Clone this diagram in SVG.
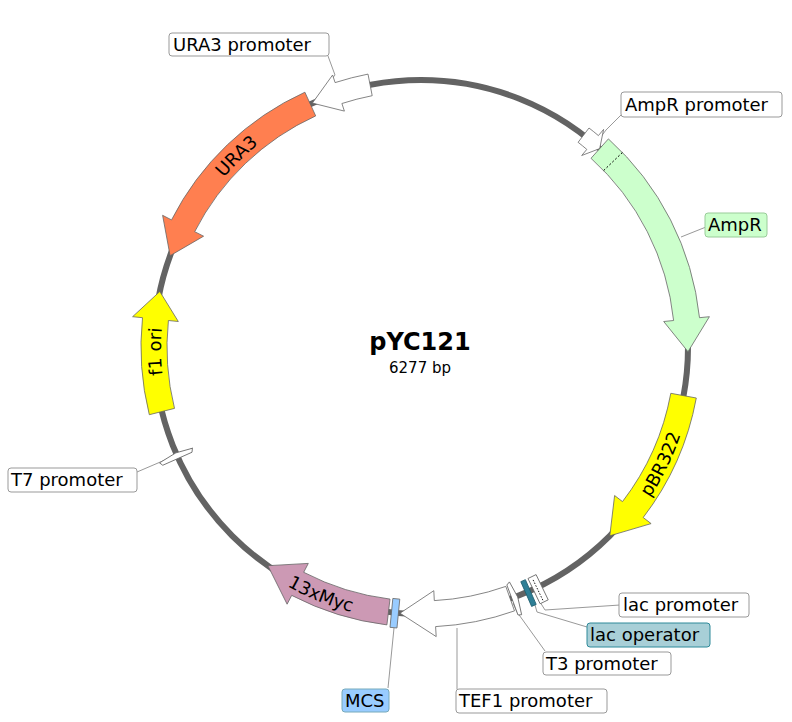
<svg xmlns="http://www.w3.org/2000/svg" width="792" height="722" viewBox="0 0 792 722">
<style>
text{font-family:"DejaVu Sans","Verdana",sans-serif;fill:#000}
.lbl{font-size:18px}
.box{fill:#fff;stroke:#999;stroke-width:1}
.lead{fill:none;stroke:#999;stroke-width:1}
.feat{stroke:#666;stroke-width:0.8}
.prom{fill:#fff;stroke:#666;stroke-width:0.8}
</style>
<rect width="792" height="722" fill="#fff"/>
<g id="backbone"><circle cx="421" cy="347" r="267" fill="none" stroke="#636363" stroke-width="6"/></g>
<g id="connectors">
<polyline class="lead" points="328,56 335,75 314,101"/>
<polyline class="lead" points="622,114 606,130 600,138"/>
<polyline class="lead" points="706,227 681,237"/>
<polyline class="lead" points="137,472 193,448"/>
<polyline class="lead" points="620,605 545,610 540,602"/>
<polyline class="lead" points="587,627 537,612 535,605"/>
<polyline class="lead" points="545,651 517,612 513,603"/>
<polyline class="lead" points="457,689 457,628"/>
<polyline class="lead" points="388,688 394,628"/>
</g>
<g id="ura3promoter"><path class="prom" d="M368,74.1 A278,278 0 0 0 335.1,82.6 L332.6,75 L312.4,103.1 L344.4,111.1 L341.9,103.5 A256,256 0 0 1 372.2,95.7 Z"/>
<rect class="box" x="169" y="33" width="160" height="23" rx="3"/><text class="lbl" x="173" y="51">URA3 promoter</text></g>
<g id="ura3"><path class="feat" fill="#ff7f50" d="M304.9,92.2 A280,280 0 0 0 171.5,219.9 L162.6,215.3 L170.1,255.7 L203.6,236.2 L194.7,231.7 A254,254 0 0 1 315.7,115.9 Z"/>
<path id="pU" d="M179.9,249.6 A260,260 0 0 1 332.1,102.7" fill="none"/>
<text class="lbl"><textPath href="#pU" startOffset="50%" text-anchor="middle">URA3</textPath></text></g>
<g id="ampRpromoter"><path class="prom" d="M589,128 A276,276 0 0 1 598.4,135.6 L603.6,129.4 L599.7,148.6 L581.7,155.5 L586.8,149.4 A258,258 0 0 0 578.1,142.3 Z"/>
<rect class="box" x="621" y="92" width="161" height="25" rx="3"/><text class="lbl" x="625" y="111">AmpR promoter</text></g>
<g id="ampR"><path class="feat" fill="#ccffcc" d="M608.4,138.9 A280,280 0 0 1 699.5,317.7 L709.4,316.7 L688,351.7 L663.7,321.5 L673.6,320.5 A254,254 0 0 0 591,158.3 Z"/>
<line x1="622.4" y1="152.5" x2="603.7" y2="170.5" stroke="#000" stroke-width="1" stroke-dasharray="2,2"/>
<rect x="705" y="213" width="62" height="24" rx="3" fill="#ccffcc" stroke="#9c9"/><text class="lbl" x="708" y="231">AmpR</text></g>
<g id="pBR322"><path class="feat" fill="#ffff00" d="M696.3,398 A280,280 0 0 1 643.2,517.5 L651.1,523.6 L609.8,535.8 L614.6,495.5 L622.5,501.6 A254,254 0 0 0 670.8,393.3 Z"/>
<path id="pP" d="M621.4,533.9 A274,274 0 0 0 691.6,389.9" fill="none"/>
<text class="lbl"><textPath href="#pP" startOffset="50%" text-anchor="middle">pBR322</textPath></text></g>
<g id="lacpromoter"><g transform="rotate(154.3 421 347)"><rect class="prom" x="416" y="64" width="9" height="28"/><line x1="421" y1="66" x2="421" y2="90" stroke="#000" stroke-width="0.8" stroke-dasharray="1.5,1.5"/></g>
<rect class="box" x="619" y="593" width="130" height="24" rx="3"/><text class="lbl" x="623" y="611">lac promoter</text></g>
<g id="lacoperator"><rect transform="rotate(156.4 421 347)" x="418.5" y="65" width="5" height="27" fill="#2e7f96" stroke="#1f5f70" stroke-width="0.8"/>
<rect x="587" y="623" width="123" height="24" rx="3" fill="#a8cfd7" stroke="#2e8a9a"/><text class="lbl" x="590" y="641">lac operator</text></g>
<g id="t3promoter"><polygon class="prom" transform="rotate(159.6 421 347)" points="423.5,62 423.5,94 420,96 417.5,79 420,61"/>
<rect class="box" x="543" y="652" width="128" height="23" rx="3"/><text class="lbl" x="546" y="670">T3 promoter</text></g>
<g id="tef1promoter"><path class="prom" d="M514.5,610.9 A280,280 0 0 1 435.6,626.6 L436.2,636.6 L400,613.2 L433.8,590.7 L434.3,600.6 A254,254 0 0 0 505.8,586.4 Z"/>
<rect class="box" x="456" y="689" width="151" height="24" rx="3"/><text class="lbl" x="459" y="707">TEF1 promoter</text></g>
<g id="mcs"><rect transform="rotate(185.6 421 347)" x="417.5" y="65" width="7" height="29" fill="#99ccff" stroke="#666" stroke-width="0.8"/>
<rect x="342" y="689" width="47" height="23" rx="3" fill="#99ccff" stroke="#7ab"/><text class="lbl" x="345" y="707">MCS</text></g>
<g id="myc"><path class="feat" fill="#cc99b4" d="M386.9,624.9 A280,280 0 0 1 291.7,595.4 L287.1,604.2 L267.9,565.7 L308.3,563.4 L303.7,572.3 A254,254 0 0 0 390,599.1 Z"/>
<path id="pM" d="M252.3,562.9 A274,274 0 0 0 392.4,619.5" fill="none"/>
<text class="lbl"><textPath href="#pM" startOffset="50%" text-anchor="middle">13xMyc</textPath></text></g>
<g id="t7promoter"><polygon class="prom" transform="rotate(-114 421 347)" points="418,63 418,95 421.5,97 424,80 421.5,61"/>
<rect class="box" x="8" y="468" width="129" height="24" rx="3"/><text class="lbl" x="11" y="486">T7 promoter</text></g>
<g id="f1ori"><path class="feat" fill="#ffff00" d="M149.3,414.7 A280,280 0 0 1 142.5,317.7 L132.6,316.7 L159.8,291.5 L178.3,321.5 L168.4,320.5 A254,254 0 0 0 174.5,408.4 Z"/>
<path id="pF" d="M169.9,414.3 A260,260 0 0 1 167.7,288.5" fill="none"/>
<text class="lbl"><textPath href="#pF" startOffset="50%" text-anchor="middle">f1 ori</textPath></text></g>
<g id="title"><text x="420" y="350" font-size="24" font-weight="bold" text-anchor="middle">pYC121</text>
<text x="420" y="373" font-size="15" text-anchor="middle">6277 bp</text></g>
</svg>
